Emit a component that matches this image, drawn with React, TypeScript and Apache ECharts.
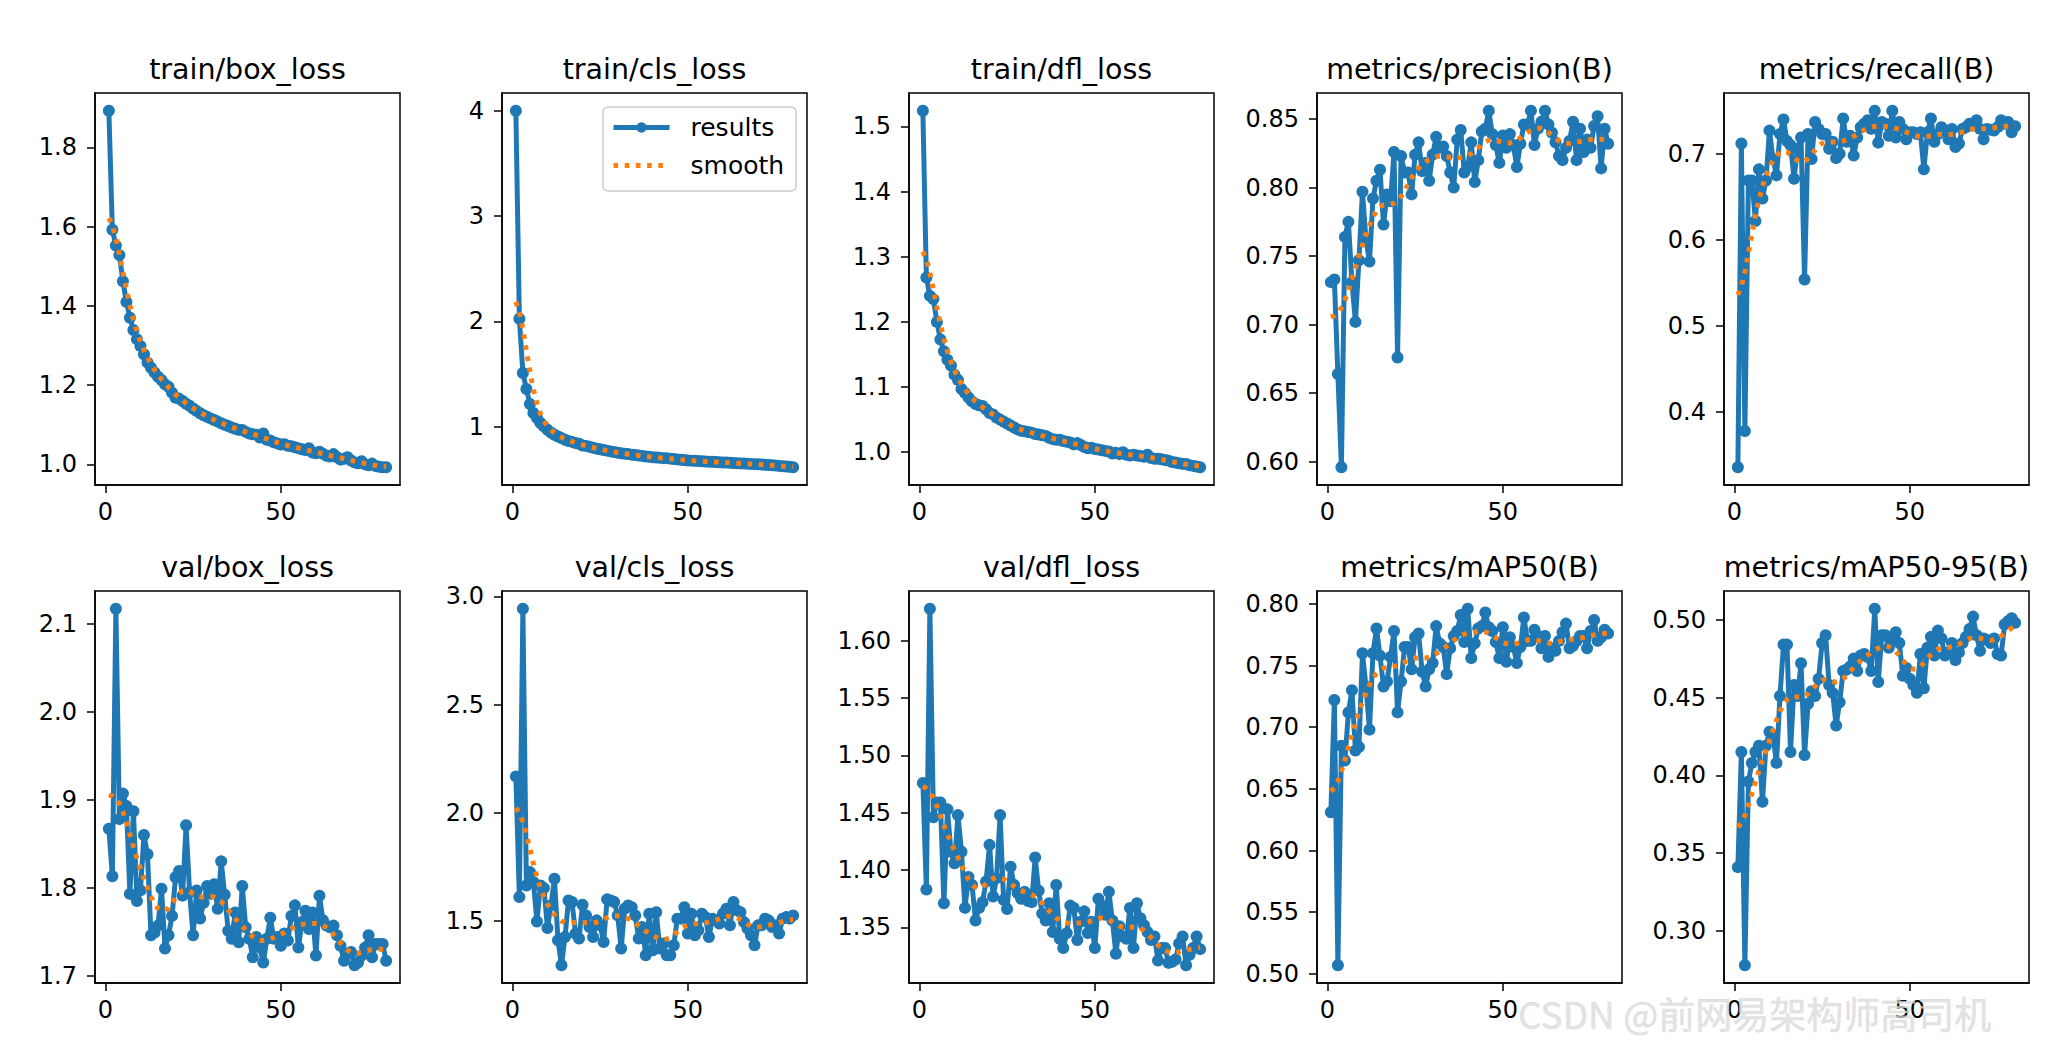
import React, { useEffect, useRef } from "react";
import * as echarts from "echarts";

// Training epochs (x axis of every panel)
const epochs: number[] = Array.from({ length: 80 }, (_, i) => i + 1);
const xTicks = [0, 50];

// ---- per-epoch values ----
const trainBoxLoss = [
  1.892, 1.592, 1.552, 1.528, 1.462, 1.41, 1.37, 1.339, 1.316, 1.299,
  1.278, 1.257, 1.244, 1.232, 1.221, 1.213, 1.202, 1.196, 1.181, 1.168,
  1.166, 1.16, 1.153, 1.148, 1.141, 1.135, 1.129, 1.124, 1.12, 1.116,
  1.112, 1.108, 1.104, 1.1, 1.097, 1.093, 1.09, 1.087, 1.087, 1.082,
  1.078, 1.076, 1.075, 1.068, 1.078, 1.062, 1.06, 1.056, 1.053, 1.05,
  1.051, 1.047, 1.046, 1.043, 1.041, 1.038, 1.036, 1.041, 1.03, 1.028,
  1.032, 1.027, 1.022, 1.02, 1.026, 1.018, 1.012, 1.014, 1.018, 1.01,
  1.005, 1.003, 1.008, 1.0, 0.998, 1.002, 0.996, 0.994, 0.993, 0.993,
];
const trainClsLoss = [
  4.0, 2.025, 1.511, 1.359, 1.216, 1.13, 1.083, 1.035, 1.003, 0.971,
  0.946, 0.924, 0.908, 0.892, 0.876, 0.865, 0.856, 0.845, 0.838, 0.822,
  0.818, 0.81, 0.8, 0.792, 0.786, 0.779, 0.773, 0.766, 0.76, 0.752,
  0.748, 0.744, 0.74, 0.735, 0.731, 0.727, 0.723, 0.717, 0.714, 0.71,
  0.708, 0.705, 0.702, 0.7, 0.697, 0.694, 0.69, 0.687, 0.684, 0.68,
  0.678, 0.676, 0.674, 0.672, 0.67, 0.668, 0.667, 0.665, 0.663, 0.661,
  0.66, 0.658, 0.656, 0.654, 0.652, 0.651, 0.649, 0.647, 0.645, 0.643,
  0.641, 0.639, 0.636, 0.634, 0.631, 0.628, 0.625, 0.622, 0.619, 0.616,
];
const trainDflLoss = [
  1.524, 1.268, 1.24, 1.235, 1.2, 1.173, 1.155, 1.142, 1.133, 1.119,
  1.111, 1.097, 1.091, 1.084, 1.078, 1.074, 1.072, 1.071, 1.066, 1.06,
  1.058, 1.053, 1.05, 1.047, 1.044, 1.041, 1.038, 1.035, 1.033, 1.032,
  1.031, 1.03, 1.028, 1.027, 1.026, 1.025, 1.022, 1.02, 1.019, 1.019,
  1.017, 1.016, 1.015, 1.012, 1.014, 1.011, 1.008, 1.006, 1.007, 1.005,
  1.004, 1.003, 1.002, 1.001, 0.998, 0.999, 0.997, 1.0, 0.996, 0.995,
  0.996, 0.995, 0.994, 0.993, 0.996, 0.991, 0.99, 0.99, 0.989, 0.988,
  0.987, 0.985, 0.984, 0.983, 0.982, 0.982, 0.98, 0.979, 0.978, 0.977,
];
const precision = [
  0.731, 0.733, 0.664, 0.596, 0.764, 0.775, 0.731, 0.702, 0.747, 0.797,
  0.762, 0.746, 0.792, 0.805, 0.813, 0.773, 0.795, 0.79, 0.826, 0.676,
  0.823, 0.811, 0.811, 0.795, 0.824, 0.833, 0.812, 0.818, 0.805, 0.824,
  0.837, 0.829, 0.83, 0.823, 0.811, 0.8, 0.835, 0.842, 0.811, 0.815,
  0.833, 0.804, 0.82, 0.841, 0.843, 0.856, 0.839, 0.831, 0.818, 0.838,
  0.829, 0.839, 0.831, 0.815, 0.832, 0.846, 0.846, 0.856, 0.831, 0.843,
  0.848, 0.856, 0.846, 0.84, 0.833, 0.823, 0.82, 0.829, 0.834, 0.848,
  0.82, 0.843, 0.826, 0.835, 0.829, 0.845, 0.852, 0.814, 0.843, 0.832,
];
const recall = [
  0.336, 0.712, 0.378, 0.669, 0.669, 0.622, 0.682, 0.648, 0.669, 0.727,
  0.694, 0.675, 0.723, 0.74, 0.715, 0.71, 0.671, 0.706, 0.719, 0.554,
  0.723, 0.694, 0.737, 0.729, 0.723, 0.723, 0.706, 0.714, 0.695, 0.7,
  0.741, 0.714, 0.721, 0.698, 0.719, 0.731, 0.735, 0.739, 0.729, 0.75,
  0.713, 0.737, 0.735, 0.721, 0.75, 0.719, 0.737, 0.729, 0.717, 0.725,
  0.725, 0.723, 0.725, 0.682, 0.725, 0.741, 0.714, 0.723, 0.731, 0.727,
  0.717, 0.729, 0.708, 0.712, 0.729, 0.731, 0.735, 0.733, 0.739, 0.729,
  0.717, 0.729, 0.728, 0.727, 0.731, 0.739, 0.735, 0.737, 0.725, 0.732,
];
const valBoxLoss = [
  1.867, 1.813, 2.117, 1.878, 1.907, 1.893, 1.793, 1.887, 1.785, 1.797,
  1.86, 1.838, 1.746, 1.749, 1.757, 1.799, 1.731, 1.746, 1.768, 1.812,
  1.819, 1.791, 1.871, 1.795, 1.746, 1.797, 1.765, 1.783, 1.802, 1.793,
  1.804, 1.776, 1.83, 1.792, 1.751, 1.742, 1.772, 1.738, 1.802, 1.755,
  1.742, 1.721, 1.744, 1.732, 1.715, 1.742, 1.766, 1.742, 1.744, 1.734,
  1.748, 1.74, 1.768, 1.78, 1.732, 1.761, 1.774, 1.753, 1.772, 1.723,
  1.791, 1.763, 1.757, 1.755, 1.757, 1.746, 1.734, 1.717, 1.725, 1.727,
  1.712, 1.715, 1.723, 1.732, 1.746, 1.721, 1.736, 1.736, 1.736, 1.717,
];
const valClsLoss = [
  2.168, 1.611, 2.942, 1.664, 1.726, 1.68, 1.498, 1.664, 1.652, 1.468,
  1.572, 1.695, 1.411, 1.296, 1.426, 1.595, 1.588, 1.442, 1.419, 1.575,
  1.526, 1.472, 1.426, 1.503, 1.48, 1.403, 1.6, 1.595, 1.588, 1.526,
  1.373, 1.557, 1.572, 1.564, 1.526, 1.419, 1.472, 1.342, 1.534, 1.365,
  1.541, 1.373, 1.396, 1.342, 1.342, 1.388, 1.511, 1.511, 1.564, 1.442,
  1.534, 1.434, 1.457, 1.534, 1.518, 1.426, 1.511, 1.503, 1.488, 1.534,
  1.557, 1.48, 1.588, 1.549, 1.541, 1.495, 1.465, 1.434, 1.388, 1.48,
  1.48, 1.511, 1.503, 1.472, 1.48, 1.442, 1.511, 1.518, 1.511, 1.526,
];
const valDflLoss = [
  1.476, 1.383, 1.628, 1.446, 1.459, 1.459, 1.371, 1.453, 1.416, 1.406,
  1.448, 1.416, 1.367, 1.394, 1.387, 1.356, 1.367, 1.372, 1.39, 1.422,
  1.377, 1.393, 1.448, 1.374, 1.366, 1.403, 1.387, 1.38, 1.375, 1.381,
  1.373, 1.372, 1.411, 1.382, 1.362, 1.356, 1.371, 1.346, 1.387, 1.34,
  1.332, 1.345, 1.369, 1.367, 1.339, 1.355, 1.364, 1.345, 1.355, 1.332,
  1.375, 1.369, 1.361, 1.381, 1.356, 1.327, 1.351, 1.342, 1.34, 1.367,
  1.332, 1.371, 1.358, 1.352, 1.346, 1.339, 1.342, 1.321, 1.332, 1.332,
  1.319, 1.32, 1.322, 1.336, 1.342, 1.317, 1.326, 1.332, 1.342, 1.331,
];
const mAP50 = [
  0.631, 0.722, 0.507, 0.685, 0.673, 0.712, 0.73, 0.681, 0.684, 0.76,
  0.733, 0.698, 0.76, 0.78, 0.758, 0.733, 0.737, 0.757, 0.778, 0.712,
  0.737, 0.765, 0.765, 0.747, 0.773, 0.776, 0.745, 0.733, 0.747, 0.752,
  0.782, 0.768, 0.765, 0.743, 0.764, 0.774, 0.778, 0.791, 0.769, 0.796,
  0.756, 0.768, 0.78, 0.782, 0.793, 0.781, 0.778, 0.769, 0.756, 0.781,
  0.753, 0.773, 0.765, 0.752, 0.765, 0.789, 0.77, 0.77, 0.779, 0.774,
  0.764, 0.774, 0.757, 0.764, 0.762, 0.77, 0.777, 0.784, 0.764, 0.766,
  0.77, 0.774, 0.774, 0.764, 0.778, 0.787, 0.77, 0.773, 0.779, 0.776,
];
const mAP50to95 = [
  0.341, 0.415, 0.278, 0.396, 0.408, 0.415, 0.419, 0.383, 0.419, 0.428,
  0.426, 0.408, 0.451, 0.484, 0.484, 0.415, 0.458, 0.451, 0.472, 0.413,
  0.446, 0.454, 0.451, 0.462, 0.485, 0.49, 0.458, 0.453, 0.432, 0.447,
  0.467, 0.468, 0.47, 0.475, 0.467, 0.477, 0.478, 0.476, 0.467, 0.507,
  0.46, 0.49, 0.49, 0.482, 0.488, 0.492, 0.485, 0.464, 0.469, 0.462,
  0.458, 0.453, 0.478, 0.456, 0.482, 0.489, 0.477, 0.493, 0.488, 0.477,
  0.479, 0.485, 0.474, 0.479, 0.485, 0.489, 0.494, 0.502, 0.49, 0.48,
  0.488, 0.487, 0.485, 0.488, 0.478, 0.477, 0.497, 0.499, 0.501, 0.498,
];

// ---- y tick labels per panel ----
const trainBoxTicks = [1.0, 1.2, 1.4, 1.6, 1.8];
const trainClsTicks = [1, 2, 3, 4];
const trainDflTicks = [1.0, 1.1, 1.2, 1.3, 1.4, 1.5];
const precisionTicks = [0.6, 0.65, 0.7, 0.75, 0.8, 0.85];
const recallTicks = [0.4, 0.5, 0.6, 0.7];
const valBoxTicks = [1.7, 1.8, 1.9, 2.0, 2.1];
const valClsTicks = [1.5, 2.0, 2.5, 3.0];
const valDflTicks = [1.35, 1.4, 1.45, 1.5, 1.55, 1.6];
const mAP50Ticks = [0.5, 0.55, 0.6, 0.65, 0.7, 0.75, 0.8];
const mAP50to95Ticks = [0.3, 0.35, 0.4, 0.45, 0.5];

type Panel = { title: string; values: number[]; ticks: number[]; digits: number };

const panels: Panel[] = [
  { title: "train/box_loss", values: trainBoxLoss, ticks: trainBoxTicks, digits: 1 },
  { title: "train/cls_loss", values: trainClsLoss, ticks: trainClsTicks, digits: 0 },
  { title: "train/dfl_loss", values: trainDflLoss, ticks: trainDflTicks, digits: 1 },
  { title: "metrics/precision(B)", values: precision, ticks: precisionTicks, digits: 2 },
  { title: "metrics/recall(B)", values: recall, ticks: recallTicks, digits: 1 },
  { title: "val/box_loss", values: valBoxLoss, ticks: valBoxTicks, digits: 1 },
  { title: "val/cls_loss", values: valClsLoss, ticks: valClsTicks, digits: 1 },
  { title: "val/dfl_loss", values: valDflLoss, ticks: valDflTicks, digits: 2 },
  { title: "metrics/mAP50(B)", values: mAP50, ticks: mAP50Ticks, digits: 2 },
  { title: "metrics/mAP50-95(B)", values: mAP50to95, ticks: mAP50to95Ticks, digits: 2 },
];

// ---- layout & style ----
const COL_LEFT = [95, 502, 909, 1317, 1724];
const ROW_TOP = [93, 591];
const GRID_W = 305;
const GRID_H = 392;
const TITLE_Y = [69, 567];
const BLUE = "#1f77b4";
const ORANGE = "#ff7f0e";
const FONT = "DejaVu Sans";
const TICK_FONT = 24;
const LINE_W = 5;
const DOTS = [4.6, 6.6];

// 1-D gaussian filter (sigma 3, reflected edges) used for the "smooth" trace
function gaussianSmooth(values: number[], sigma = 3): number[] {
  const radius = Math.floor(4 * sigma + 0.5);
  const weights: number[] = [];
  let sum = 0;
  for (let k = -radius; k <= radius; k++) {
    const w = Math.exp((-0.5 * k * k) / (sigma * sigma));
    weights.push(w);
    sum += w;
  }
  const n = values.length;
  const at = (i: number): number => {
    let j = i;
    while (j < 0 || j >= n) {
      if (j < 0) j = -j - 1;
      if (j >= n) j = 2 * n - j - 1;
    }
    return values[j];
  };
  return values.map((_, i) => {
    let acc = 0;
    for (let k = -radius; k <= radius; k++) acc += weights[k + radius] * at(i + k);
    return acc / sum;
  });
}

// matplotlib-style 5% padding around the data extent
function paddedRange(vals: number[]): [number, number] {
  const lo = Math.min(...vals);
  const hi = Math.max(...vals);
  const pad = (hi - lo) * 0.05;
  return [lo - pad, hi + pad];
}

function buildOption(): echarts.EChartsOption {
  const grids: any[] = [];
  const xAxes: any[] = [];
  const yAxes: any[] = [];
  const series: any[] = [];
  const graphics: any[] = [];
  const [xMin, xMax] = paddedRange(epochs);

  panels.forEach((p, i) => {
    const col = i % 5;
    const row = Math.floor(i / 5);
    const left = COL_LEFT[col];
    const top = ROW_TOP[row];
    const smooth = gaussianSmooth(p.values);
    const [yMin, yMax] = paddedRange(p.values.concat(smooth));

    grids.push({
      left,
      top,
      width: GRID_W,
      height: GRID_H,
      show: true,
      borderColor: "#000",
      borderWidth: 1.5,
      backgroundColor: "transparent",
      containLabel: false,
    });

    xAxes.push({
      gridIndex: i,
      type: "value",
      min: xMin,
      max: xMax,
      axisLine: { show: true, onZero: false, lineStyle: { color: "#000", width: 1.5 } },
      axisTick: { show: true, length: 8, customValues: xTicks, lineStyle: { color: "#000", width: 1.5 } },
      axisLabel: {
        show: true,
        customValues: xTicks,
        margin: 15,
        fontSize: TICK_FONT,
        fontFamily: FONT,
        color: "#000",
        formatter: (v: number) => String(Math.round(v)),
      },
      splitLine: { show: false },
    });

    yAxes.push({
      gridIndex: i,
      type: "value",
      min: yMin,
      max: yMax,
      axisLine: { show: true, onZero: false, lineStyle: { color: "#000", width: 1.5 } },
      axisTick: { show: true, length: 8, customValues: p.ticks, lineStyle: { color: "#000", width: 1.5 } },
      axisLabel: {
        show: true,
        customValues: p.ticks,
        margin: 18,
        fontSize: TICK_FONT,
        fontFamily: FONT,
        color: "#000",
        formatter: (v: number) => v.toFixed(p.digits),
      },
      splitLine: { show: false },
    });

    series.push({
      type: "line",
      name: "results",
      xAxisIndex: i,
      yAxisIndex: i,
      data: epochs.map((e, k) => [e, p.values[k]]),
      symbol: "circle",
      symbolSize: 12,
      showSymbol: true,
      showAllSymbol: true,
      lineStyle: { color: BLUE, width: LINE_W },
      itemStyle: { color: BLUE },
      emphasis: { disabled: true },
      silent: true,
      z: 2,
    });
    series.push({
      type: "line",
      name: "smooth",
      xAxisIndex: i,
      yAxisIndex: i,
      data: epochs.map((e, k) => [e, smooth[k]]),
      symbol: "none",
      lineStyle: { color: ORANGE, width: LINE_W, type: DOTS, cap: "butt" },
      itemStyle: { color: ORANGE },
      emphasis: { disabled: true },
      silent: true,
      z: 3,
    });

    graphics.push({
      type: "text",
      x: left + GRID_W / 2,
      y: TITLE_Y[row],
      style: {
        text: p.title,
        fontSize: 28.5,
        fontFamily: FONT,
        fill: "#000",
        align: "center",
        verticalAlign: "middle",
      },
    });
  });

  // faint embossed watermark in the bottom-right corner
  graphics.push({
    type: "text",
    x: 1518,
    y: 1013,
    z: 100,
    style: {
      text: "CSDN @前网易架构师高司机",
      fontSize: 37,
      fontFamily: "Noto Sans CJK SC",
      fill: "rgba(218,218,218,0.75)",
      stroke: "rgba(165,165,165,0.35)",
      lineWidth: 0.6,
      align: "left",
      verticalAlign: "middle",
    },
  });

  return {
    animation: false,
    backgroundColor: "#fff",
    grid: grids,
    xAxis: xAxes,
    yAxis: yAxes,
    series,
    graphic: graphics,
    legend: {
      data: [
        {
          name: "results",
          lineStyle: { color: BLUE, width: LINE_W },
          itemStyle: { color: BLUE },
        },
        {
          name: "smooth",
          lineStyle: { color: ORANGE, width: LINE_W, type: DOTS, cap: "butt" },
          itemStyle: { color: ORANGE, opacity: 0 },
        },
      ],
      left: 603,
      top: 107,
      orient: "vertical",
      itemWidth: 56,
      itemHeight: 13,
      itemGap: 13,
      padding: [8, 12, 13, 8],
      backgroundColor: "rgba(255,255,255,0.8)",
      borderColor: "#cccccc",
      borderWidth: 1.5,
      borderRadius: 5,
      selectedMode: false,
      textStyle: {
        fontSize: 25,
        fontFamily: FONT,
        color: "#000",
        padding: [0, 0, 0, 16],
      },
    },
  } as any;
}

export default function App() {
  const ref = useRef<HTMLDivElement>(null);
  useEffect(() => {
    if (!ref.current) return;
    const chart = echarts.init(ref.current, null, { renderer: "svg" });
    chart.setOption(buildOption());
    return () => chart.dispose();
  }, []);
  return (
    <div
      ref={ref}
      style={{ position: "fixed", left: 0, top: 0, width: 2050, height: 1050, background: "#fff" }}
    />
  );
}
